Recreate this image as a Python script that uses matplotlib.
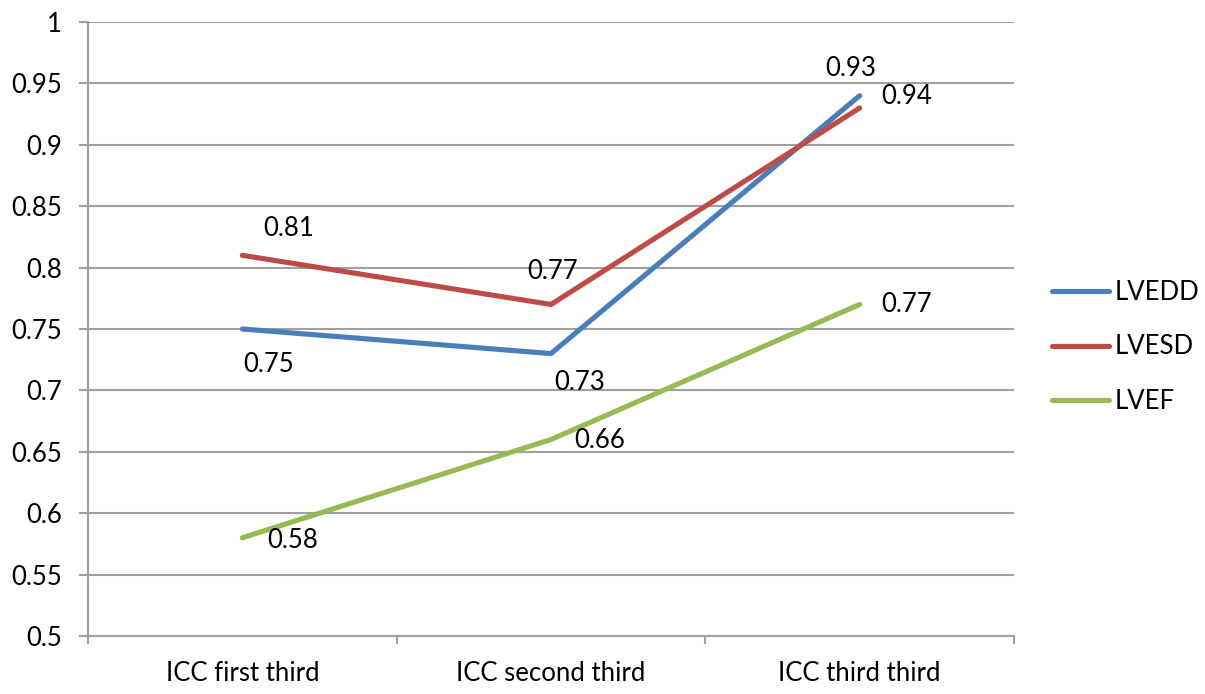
import numpy as np
import matplotlib.pyplot as plt

plt.rcParams['font.family'] = ['Lato', 'DejaVu Sans']

categories = ["ICC first third", "ICC second third", "ICC third third"]
series_names = ["LVEDD", "LVESD", "LVEF"]
lvedd = [0.75, 0.73, 0.94]
lvesd = [0.81, 0.77, 0.93]
lvef = [0.58, 0.66, 0.77]
# data labels as printed on the original chart
lvedd_labels = ["0.75", "0.73", "0.93"]
lvesd_labels = ["0.81", "0.77", "0.94"]
lvef_labels = ["0.58", "0.66", "0.77"]
yticks = [0.5, 0.55, 0.6, 0.65, 0.7, 0.75, 0.8, 0.85, 0.9, 0.95, 1.0]

colors = ["#4a7ebb", "#be4b48", "#98b954"]
# label offsets in pixels (dx, dy)
offsets = [
    [(26, -36), (29, -29), (-9, 27)],
    [(46, 27), (2, 33), (47, 11)],
    [(50, -3), (49, -1), (47, 0)],
]
fs = 18.5

fig = plt.figure(figsize=(12.05, 6.94), dpi=100)
ax = fig.add_axes([88 / 1205, 58 / 694, 926 / 1205, 614 / 694])

x = np.arange(len(categories))
grid_c = "#a0a0a0"

for vals, labs, col, offs, name in zip([lvedd, lvesd, lvef],
                                       [lvedd_labels, lvesd_labels, lvef_labels],
                                       colors, offsets, series_names):
    ax.plot(x, vals, color=col, lw=3.7, solid_capstyle='round',
            solid_joinstyle='miter', label=name, zorder=3)
    for xi, v, t, (dx, dy) in zip(x, vals, labs, offs):
        ax.annotate(t, (xi, v), xytext=(dx, dy), textcoords='offset pixels',
                    ha='center', va='center', fontsize=fs, color='black')

ax.set_xlim(-0.5, 2.5)
ax.set_ylim(0.5, 1.0)
ax.set_yticks(yticks)
ax.set_yticklabels([f"{t:g}" for t in yticks])
ax.set_xticks(x)
ax.set_xticklabels(categories)
ax.set_xticks([-0.5, 0.5, 1.5, 2.5], minor=True)

ax.grid(axis='y', color=grid_c, lw=1.5)
ax.set_axisbelow(True)
for s in ['top', 'right']:
    ax.spines[s].set_visible(False)
for s in ['left', 'bottom']:
    ax.spines[s].set_color(grid_c)
    ax.spines[s].set_linewidth(1.5)

ax.tick_params(axis='y', length=6.5, width=1.5, color=grid_c, pad=12, labelsize=fs)
ax.tick_params(axis='x', which='major', length=0, pad=18, labelsize=fs)
ax.tick_params(axis='x', which='minor', length=6, width=1.5, color=grid_c)

fig.legend(loc='center left', bbox_to_anchor=(1052 / 1205, 0.5), frameon=False,
           fontsize=fs, handlelength=2.2, handletextpad=0.25, labelspacing=1.15,
           borderpad=0, borderaxespad=0)

fig.savefig("out.png", dpi=100)
